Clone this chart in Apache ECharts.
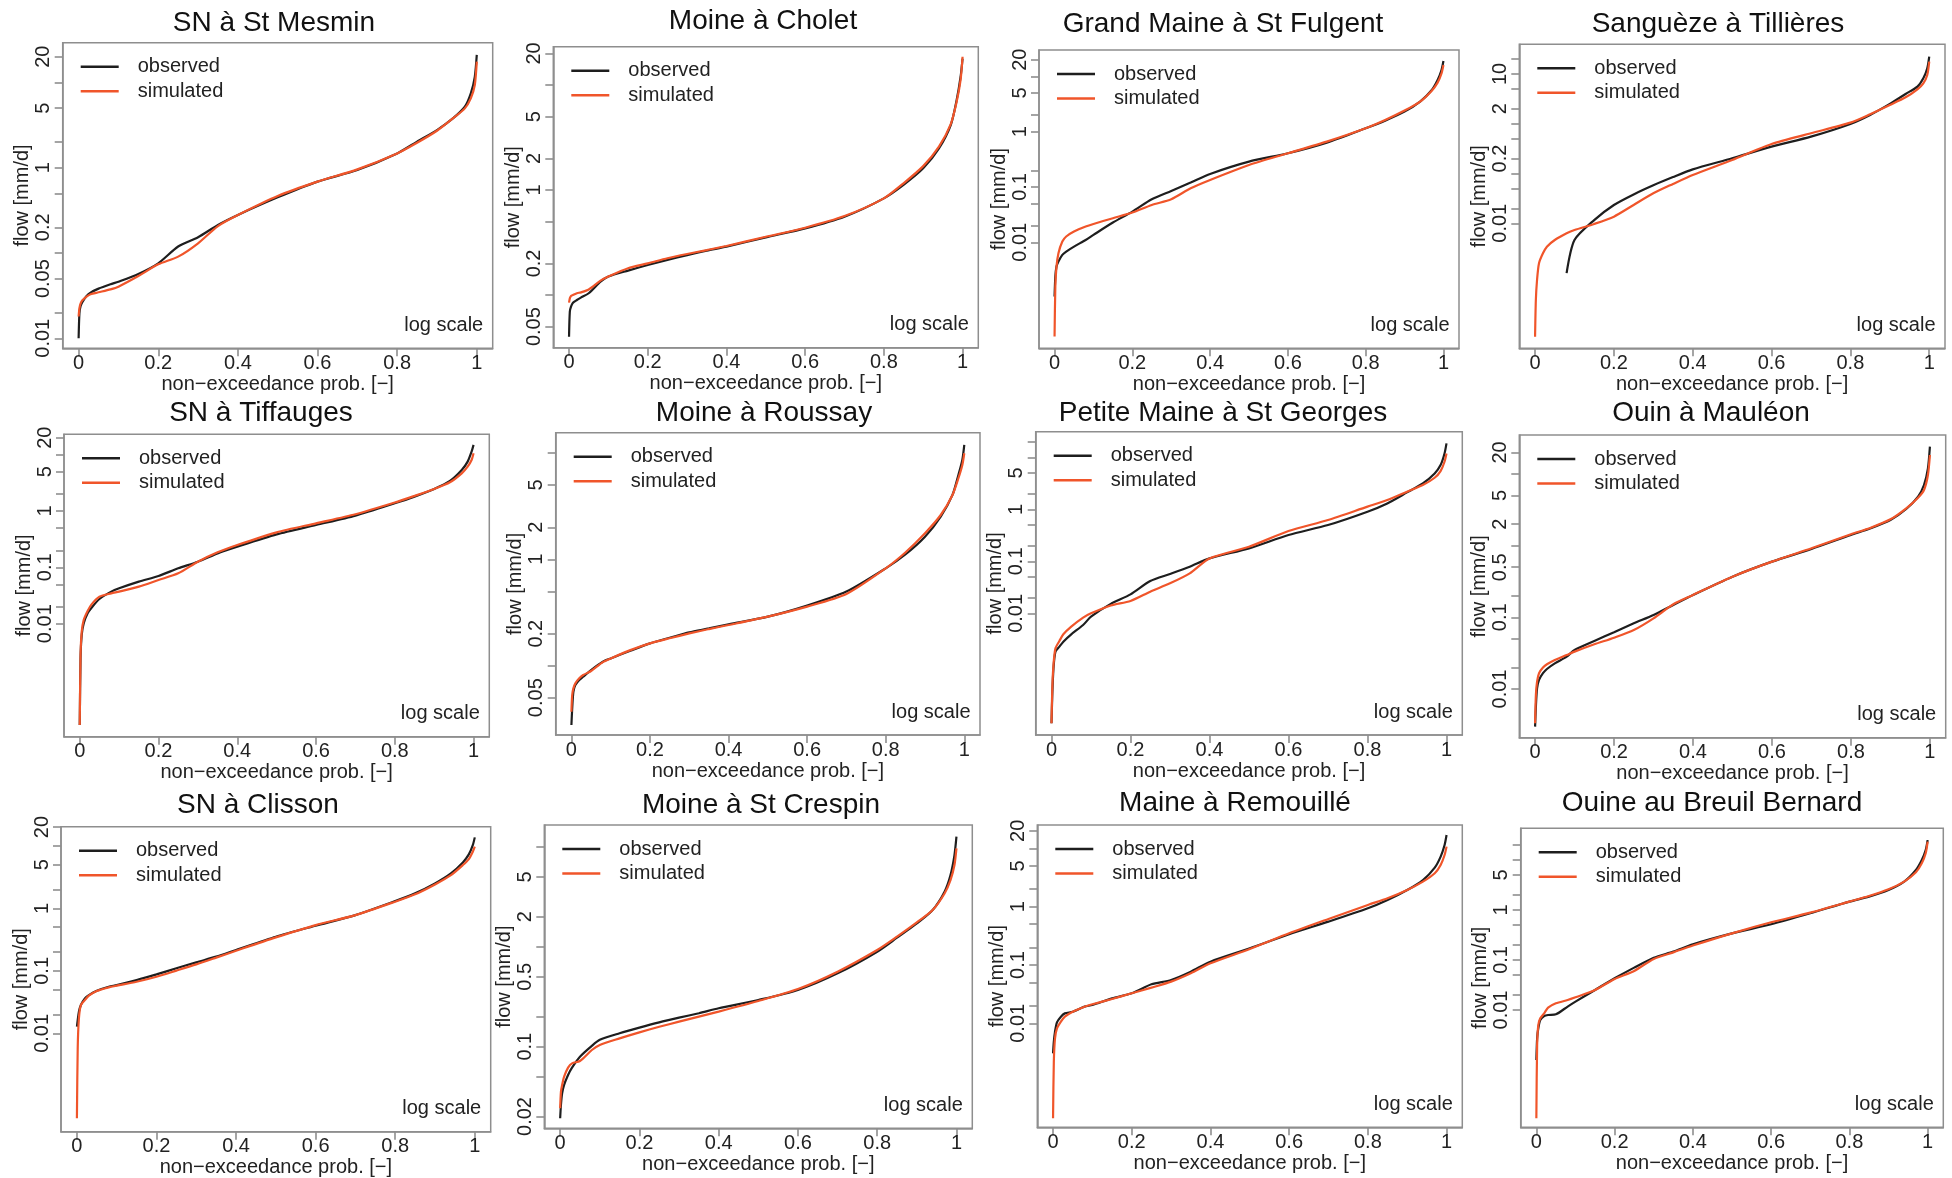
<!DOCTYPE html>
<html><head><meta charset="utf-8">
<script src="https://cdn.jsdelivr.net/npm/echarts@6/dist/echarts.min.js"></script>
<style>html,body{margin:0;padding:0;background:#fff}#c{width:1952px;height:1178px}</style>
</head><body><div id="c"></div>
<script>
// ---------- DATA ----------
const titles = ['SN à St Mesmin','Moine à Cholet','Grand Maine à St Fulgent','Sanguèze à Tillières',
  'SN à Tiffauges','Moine à Roussay','Petite Maine à St Georges','Ouin à Mauléon',
  'SN à Clisson','Moine à St Crespin','Maine à Remouillé','Ouine au Breuil Bernard'];
const legendNames = ['observed','simulated'];
const xName = 'non\u2212exceedance prob. [\u2212]';
const yName = 'flow [mm/d]';
const cornerNote = 'log scale';

// non-exceedance probability (shared x for all curves)
const prob = [0, 0.002, 0.005, 0.01, 0.02, 0.03, 0.05, 0.08, 0.1, 0.15, 0.2, 0.25, 0.3, 0.35, 0.4, 0.5, 0.6, 0.7, 0.8, 0.85, 0.9, 0.94, 0.97, 0.985, 0.995, 1];

// flow [mm/d]
const obs1 = [0.010, 0.0196, 0.0239, 0.0269, 0.0313, 0.0343, 0.0382, 0.043, 0.0461, 0.0568, 0.0757, 0.119, 0.153, 0.213, 0.279, 0.449, 0.686, 0.94, 1.47, 2.02, 2.76, 3.78, 5.18, 7.43, 11.6, 21];
const sim1 = [0.018, 0.0225, 0.0257, 0.0281, 0.0308, 0.0328, 0.0346, 0.0375, 0.0403, 0.0537, 0.0736, 0.0906, 0.13, 0.207, 0.279, 0.466, 0.686, 0.956, 1.47, 1.96, 2.71, 3.78, 4.96, 6.5, 9.3, 17.5];
const obs2 = [0.0401, 0.0694, 0.0774, 0.0845, 0.0896, 0.0944, 0.104, 0.134, 0.15, 0.171, 0.193, 0.216, 0.24, 0.265, 0.289, 0.354, 0.431, 0.557, 0.833, 1.12, 1.61, 2.49, 4.16, 7.2, 12, 17.9];
const sim2 = [0.0845, 0.093, 0.098, 0.1, 0.104, 0.106, 0.113, 0.137, 0.15, 0.18, 0.2, 0.224, 0.246, 0.268, 0.293, 0.359, 0.438, 0.565, 0.833, 1.16, 1.69, 2.59, 4.25, 6.94, 11.2, 18.6];
const obs3 = [0.00104, 0.0024, 0.00363, 0.00448, 0.0059, 0.00678, 0.00835, 0.011, 0.0136, 0.0227, 0.0358, 0.0598, 0.0847, 0.12, 0.172, 0.287, 0.406, 0.633, 1.15, 1.58, 2.3, 3.49, 5.66, 8.58, 13, 18.9];
const sim3 = [0.000197, 0.00158, 0.00363, 0.00633, 0.0103, 0.0127, 0.0156, 0.0192, 0.0214, 0.0272, 0.0344, 0.0473, 0.0598, 0.0946, 0.134, 0.25, 0.406, 0.66, 1.15, 1.62, 2.4, 3.49, 5.5, 7.68, 11.3, 16];
const obs4 = [null, null, null, null, null, null, null, 0.001, 0.00461, 0.0116, 0.0233, 0.038, 0.058, 0.085, 0.121, 0.202, 0.347, 0.55, 0.989, 1.5, 2.5, 3.96, 5.56, 8.18, 13, 22.3];
const sim4 = [5.27e-5, 2.88e-4, 7.26e-4, 0.00157, 0.00249, 0.00339, 0.00461, 0.00628, 0.00733, 0.0097, 0.0136, 0.0233, 0.04, 0.0617, 0.0935, 0.187, 0.392, 0.643, 1.05, 1.55, 2.38, 3.4, 4.92, 6.49, 9.55, 17.7];
const obs5 = [1.59e-4, 0.00243, 0.0063, 0.0101, 0.0153, 0.0192, 0.0274, 0.037, 0.0424, 0.0557, 0.0702, 0.096, 0.126, 0.177, 0.233, 0.385, 0.564, 0.827, 1.37, 1.8, 2.46, 3.41, 5.34, 7.51, 11.3, 14.9];
const sim5 = [1.59e-4, 0.00278, 0.0072, 0.0116, 0.0168, 0.022, 0.0301, 0.0345, 0.037, 0.0454, 0.0596, 0.0782, 0.126, 0.185, 0.249, 0.418, 0.604, 0.873, 1.41, 1.85, 2.46, 3.23, 4.66, 6.12, 8.04, 10.6];
const obs6 = [0.0277, 0.0397, 0.0569, 0.0658, 0.0733, 0.0788, 0.091, 0.109, 0.117, 0.138, 0.162, 0.183, 0.206, 0.224, 0.245, 0.289, 0.367, 0.497, 0.823, 1.11, 1.63, 2.52, 4.03, 6.21, 8.59, 11.9];
const sim6 = [0.0369, 0.053, 0.0612, 0.0682, 0.076, 0.0817, 0.0891, 0.108, 0.117, 0.14, 0.162, 0.181, 0.201, 0.221, 0.241, 0.289, 0.359, 0.472, 0.823, 1.16, 1.76, 2.61, 4.03, 5.78, 7.71, 9.93];
const obs7 = [7.67e-5, 2.69e-4, 8.76e-4, 0.00183, 0.00229, 0.00285, 0.00395, 0.00597, 0.00863, 0.0152, 0.0232, 0.0418, 0.0571, 0.0789, 0.114, 0.178, 0.321, 0.5, 0.902, 1.3, 2.12, 3.16, 4.92, 7.12, 11.9, 18.6];
const sim7 = [7.67e-5, 3.61e-4, 0.00101, 0.00212, 0.00294, 0.00395, 0.00554, 0.00826, 0.01, 0.0142, 0.0173, 0.0261, 0.0378, 0.0588, 0.114, 0.191, 0.383, 0.624, 1.13, 1.51, 2.19, 2.94, 4.06, 5.46, 8.25, 11.9];
const obs8 = [0.00298, 0.00566, 0.0102, 0.0134, 0.0166, 0.019, 0.0228, 0.0282, 0.035, 0.0468, 0.0618, 0.0824, 0.108, 0.149, 0.205, 0.369, 0.598, 0.898, 1.41, 1.75, 2.28, 3.25, 4.83, 7.02, 12, 24.1];
const sim8 = [0.00332, 0.00824, 0.0127, 0.0166, 0.0199, 0.0221, 0.0254, 0.0298, 0.0332, 0.042, 0.052, 0.0665, 0.0968, 0.152, 0.205, 0.369, 0.598, 0.918, 1.44, 1.78, 2.33, 3.32, 4.67, 5.98, 9.68, 18.4];
const obs9 = [0.0128, 0.0163, 0.0222, 0.0284, 0.0363, 0.041, 0.0482, 0.0558, 0.0593, 0.0713, 0.0879, 0.11, 0.137, 0.169, 0.216, 0.352, 0.528, 0.782, 1.31, 1.74, 2.51, 3.63, 5.45, 7.31, 10.3, 13.7];
const sim9 = [4.37e-4, 0.00575, 0.0174, 0.0284, 0.0341, 0.0401, 0.0476, 0.0545, 0.058, 0.0671, 0.0807, 0.101, 0.127, 0.163, 0.21, 0.344, 0.541, 0.782, 1.28, 1.68, 2.42, 3.41, 4.94, 6.15, 8.07, 9.7];
const obs10 = [0.0192, 0.0261, 0.0341, 0.0414, 0.0521, 0.0617, 0.0794, 0.102, 0.117, 0.136, 0.155, 0.175, 0.195, 0.216, 0.242, 0.293, 0.369, 0.541, 0.891, 1.23, 1.71, 2.33, 3.55, 5.21, 8.25, 12.6];
const sim10 = [0.0242, 0.0355, 0.0414, 0.0501, 0.0617, 0.0681, 0.0719, 0.0926, 0.104, 0.121, 0.139, 0.158, 0.178, 0.2, 0.224, 0.286, 0.377, 0.562, 0.926, 1.26, 1.75, 2.33, 3.41, 4.64, 6.56, 9.62];
const obs11 = [0.00306, 0.00485, 0.0072, 0.0104, 0.013, 0.0148, 0.0158, 0.0193, 0.0206, 0.0268, 0.0327, 0.0466, 0.0553, 0.0769, 0.114, 0.193, 0.336, 0.553, 0.936, 1.3, 1.93, 2.86, 4.66, 7.2, 11.4, 16.9];
const sim11 = [2.35e-4, 0.0022, 0.00553, 0.0082, 0.0107, 0.013, 0.0158, 0.0193, 0.0212, 0.0261, 0.0327, 0.0409, 0.0518, 0.072, 0.107, 0.188, 0.349, 0.615, 1.07, 1.39, 1.93, 2.68, 3.73, 5.18, 7.69, 10.7];
const obs12 = [0.001, 0.00271, 0.0043, 0.0063, 0.00759, 0.00794, 0.00819, 0.0117, 0.0147, 0.0251, 0.043, 0.0703, 0.111, 0.147, 0.206, 0.341, 0.517, 0.858, 1.47, 1.85, 2.51, 3.69, 6.31, 10, 15.8, 25.1];
const sim12 = [6.8e-5, 0.002, 0.005, 0.0068, 0.00858, 0.0111, 0.0136, 0.0158, 0.0179, 0.0251, 0.0417, 0.0603, 0.105, 0.142, 0.194, 0.341, 0.567, 0.884, 1.47, 1.9, 2.59, 3.69, 5.67, 8.58, 13.6, 23.3];

// axis ticks / labels
const xTicks = [0, 0.2, 0.4, 0.6, 0.8, 1];
const tAll = [20, 10, 5, 2, 1, 0.5, 0.2, 0.1, 0.05, 0.02, 0.01];
const yTicks = [tAll, [20,10,5,2,1,0.5,0.2,0.1,0.05], [20,10,5,2,1,0.2,0.1,0.05,0.02,0.01], tAll,
  tAll, [10,5,2,1,0.5,0.2,0.1,0.05], tAll, tAll,
  tAll, [10,5,2,1,0.5,0.2,0.1,0.05,0.02], tAll, tAll];
const yLabels = [[20,5,1,0.2,0.05,0.01],[20,5,2,1,0.2,0.05],[20,5,1,0.1,0.01],[10,2,0.2,0.01],
  [20,5,1,0.1,0.01],[5,2,1,0.2,0.05],[5,1,0.1,0.01],[20,5,2,0.5,0.1,0.01],
  [20,5,1,0.1,0.01],[5,2,0.5,0.1,0.02],[20,5,1,0.1,0.01],[5,1,0.1,0.01]];
const yMin = [0.00763, 0.0315, 0.000121, 3.08e-5, 9.86e-5, 0.0223, 4.57e-5, 0.00209, 2.67e-4, 0.01525, 1.65e-4, 4.5e-5];
const yMax = [29.2, 23.2, 29.9, 39.4, 22.96, 15.5, 31.2, 35, 20.3, 16.5, 25.1, 43];
const xMin = -0.04, xMax = 1.04;

// ---------- LAYOUT ----------
const boxes = [
 {l:62.7, r:492.7, t:42.7, b:348.3},
 {l:553.3, r:978.3, t:46.7, b:347.7},
 {l:1039, r:1459, t:50, b:348.3},
 {l:1519.3, r:1945, t:44.3, b:348.3},
 {l:64, r:489.3, t:434.3, b:736.7},
 {l:555.7, r:980, t:432.7, b:735},
 {l:1035.7, r:1462.3, t:431.7, b:735},
 {l:1519.3, r:1945.7, t:435, b:737.7},
 {l:61, r:490.7, t:826.7, b:1131.7},
 {l:544.3, r:972.3, t:825, b:1128.3},
 {l:1037.3, r:1462.3, t:825, b:1127.3},
 {l:1520.7, r:1943.3, t:828.3, b:1127.3}
];
const titleX = [274, 763, 1223, 1718, 261, 764, 1223, 1711, 258, 761, 1235, 1712];
const titleTop = [9, 7, 10.5, 10.5, 399, 399, 399, 399, 791, 791, 789, 789];

const FONT = '"Liberation Sans", Arial, Helvetica, sans-serif';
const OBS_COLOR = '#1e1e1e', SIM_COLOR = '#f0552a', FRAME = '#8e8e8e', TXT = '#222';

const obsAll = [obs1,obs2,obs3,obs4,obs5,obs6,obs7,obs8,obs9,obs10,obs11,obs12];
const simAll = [sim1,sim2,sim3,sim4,sim5,sim6,sim7,sim8,sim9,sim10,sim11,sim12];
const toPairs = arr => prob.map((p, j) => [p, arr[j]]).filter(d => d[1] != null);
const fmtNum = v => String(parseFloat((+v).toPrecision(3)));

const grid = [], xAxis = [], yAxis = [], series = [], title = [], legend = [], graphic = [];
boxes.forEach((b, i) => {
  grid.push({left: b.l, top: b.t, width: b.r - b.l, height: b.b - b.t, show: true,
    borderColor: FRAME, borderWidth: 1.5, backgroundColor: 'transparent',
    containLabel: false, outerBoundsMode: 'none'});
  xAxis.push({type: 'value', gridIndex: i, min: xMin, max: xMax, position: 'bottom',
    name: xName, nameLocation: 'middle', nameGap: 26,
    nameTextStyle: {fontSize: 20, color: TXT, fontFamily: FONT},
    axisLine: {show: true, onZero: false, lineStyle: {color: FRAME, width: 1.5}}, splitLine: {show: false},
    axisTick: {show: true, inside: false, customValues: xTicks, length: 8, lineStyle: {color: FRAME, width: 1.6}},
    axisLabel: {show: true, customValues: xTicks, formatter: fmtNum, fontSize: 20, color: TXT, fontFamily: FONT, margin: 5}});
  yAxis.push({type: 'log', logBase: 10, gridIndex: i, min: yMin[i], max: yMax[i], position: 'left',
    name: yName, nameLocation: 'middle', nameGap: 27,
    nameTextStyle: {fontSize: 20, color: TXT, fontFamily: FONT},
    axisLine: {show: true, onZero: false, lineStyle: {color: FRAME, width: 1.5}}, splitLine: {show: false},
    axisTick: {show: true, inside: false, customValues: yTicks[i], length: 8, lineStyle: {color: FRAME, width: 1.6}},
    axisLabel: {show: true, customValues: yLabels[i], formatter: fmtNum, rotate: 90, fontSize: 20, color: TXT, fontFamily: FONT, margin: 9}});
  series.push({type: 'line', name: legendNames[0], xAxisIndex: i, yAxisIndex: i, data: toPairs(obsAll[i]),
    showSymbol: false, symbol: 'none', smooth: 0.25, color: OBS_COLOR,
    itemStyle: {color: OBS_COLOR}, lineStyle: {color: OBS_COLOR, width: 2.2}, z: 2});
  series.push({type: 'line', name: legendNames[1], xAxisIndex: i, yAxisIndex: i, data: toPairs(simAll[i]),
    showSymbol: false, symbol: 'none', smooth: 0.25, color: SIM_COLOR,
    itemStyle: {color: SIM_COLOR}, lineStyle: {color: SIM_COLOR, width: 2.2}, z: 3});
  title.push({text: titles[i], left: titleX[i], top: titleTop[i], textAlign: 'center', padding: 0,
    textStyle: {fontSize: 28, fontWeight: 'normal', color: '#111', fontFamily: FONT}});
  legend.push({data: legendNames, orient: 'vertical', left: b.l + 18, top: b.t + 14, padding: 0,
    itemWidth: 38, itemHeight: 2.5, itemGap: 4.5, icon: 'rect', selectedMode: false,
    textStyle: {fontSize: 20, color: TXT, fontFamily: FONT, lineHeight: 20, padding: [0, 0, 0, 14]}});
  graphic.push({type: 'text', x: b.r - 9.5, y: b.b - 13, silent: true,
    style: {text: cornerNote, fontSize: 20, fontFamily: FONT, fill: TXT,
      align: 'right', verticalAlign: 'bottom', textAlign: 'right', textVerticalAlign: 'bottom'}});
});

const chart = echarts.init(document.getElementById('c'), null, {renderer: 'canvas'});
chart.setOption({animation: false, backgroundColor: '#fff', grid, xAxis, yAxis, series, title, legend, graphic});
</script></body></html>
